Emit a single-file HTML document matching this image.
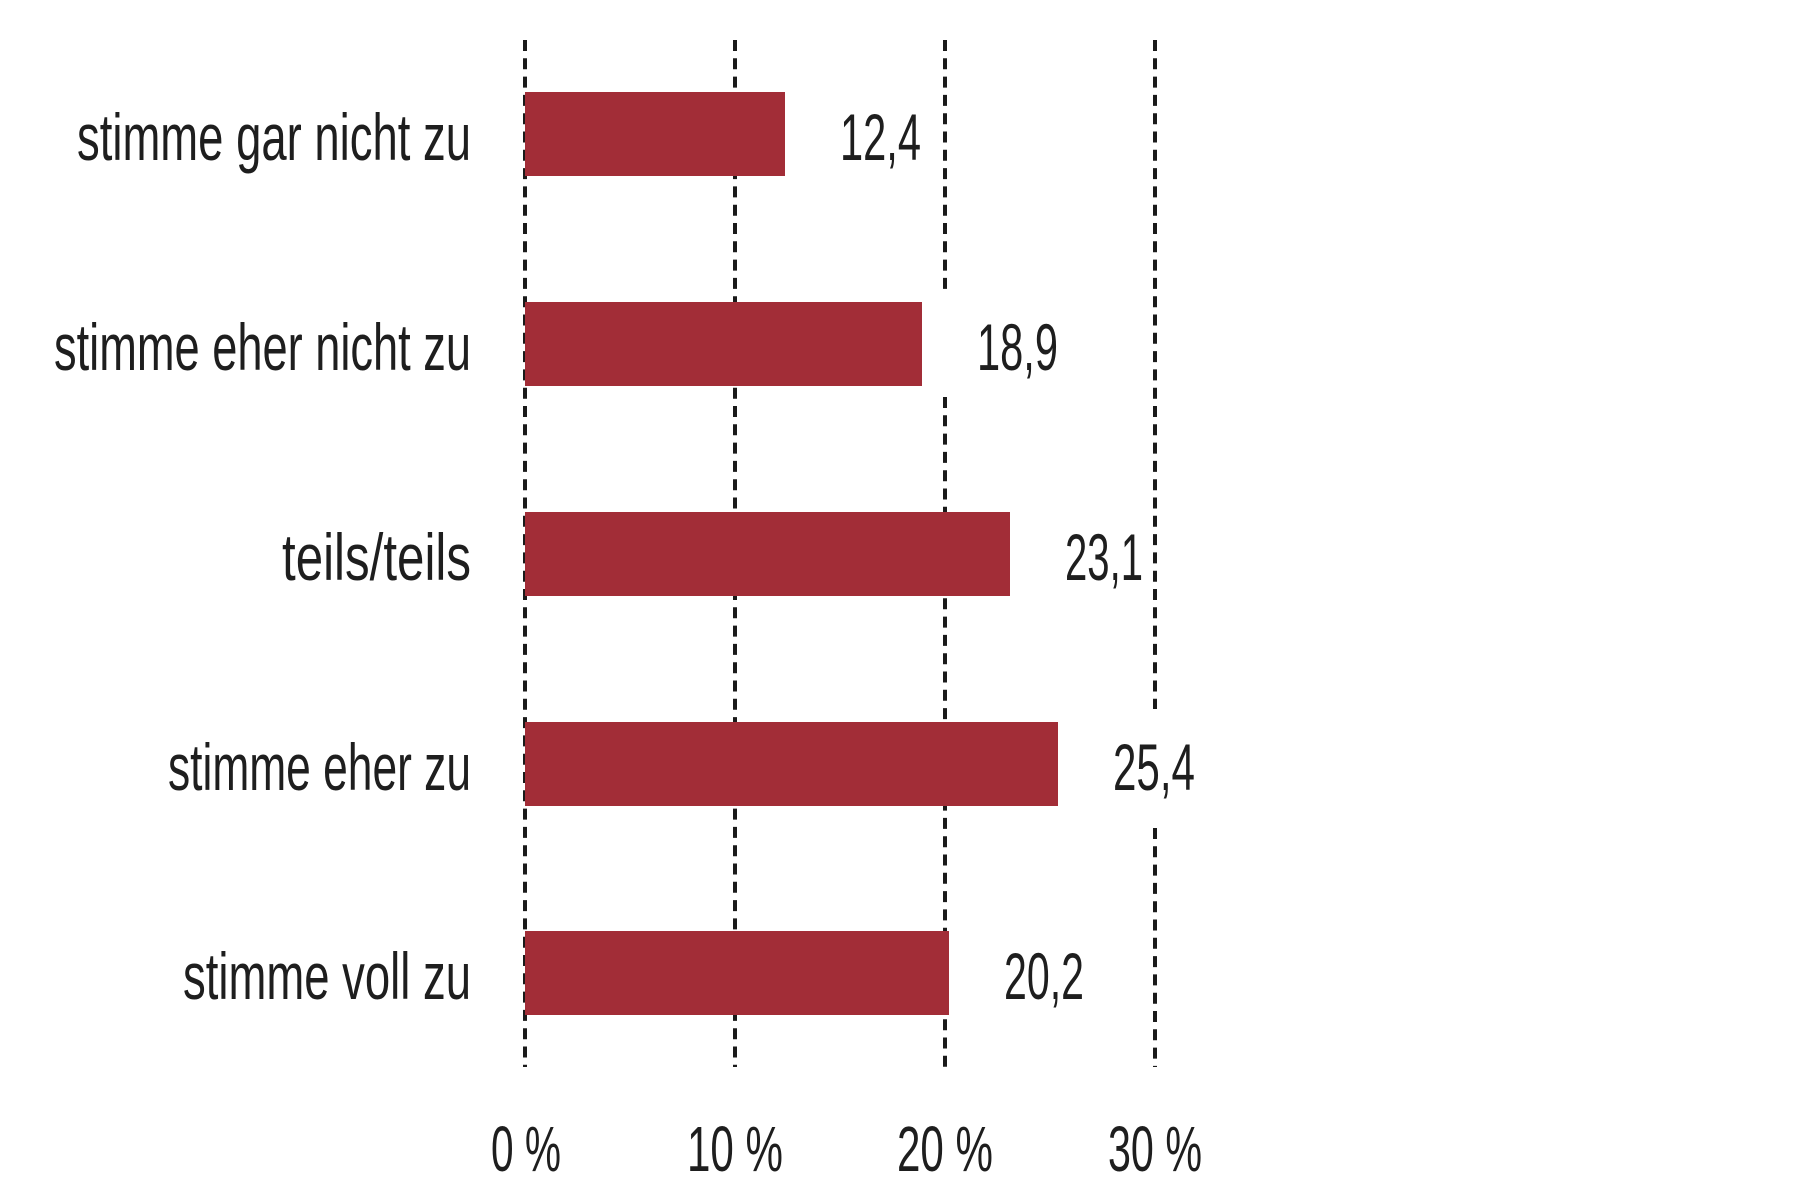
<!DOCTYPE html>
<html><head><meta charset="utf-8"><style>html,body{margin:0;padding:0;background:#fff}svg{display:block}</style></head>
<body>
<svg width="1800" height="1200" viewBox="0 0 1800 1200" xmlns="http://www.w3.org/2000/svg" font-family="Liberation Sans, sans-serif" fill="#1e1e1e">
<g stroke="#1a1a1a" stroke-width="4" stroke-dasharray="11 7.3">
<line x1="525" y1="40" x2="525" y2="1067"/>
<line x1="735" y1="40" x2="735" y2="1067"/>
<line x1="945" y1="40" x2="945" y2="291"/>
<line x1="945" y1="397" x2="945" y2="1067"/>
<line x1="1155" y1="40" x2="1155" y2="709"/>
<line x1="1155" y1="828" x2="1155" y2="1067"/>
</g>
<g fill="#a22d37">
<rect x="525" y="92" width="260" height="84"/>
<rect x="525" y="302" width="397" height="84"/>
<rect x="525" y="512" width="485" height="84"/>
<rect x="525" y="722" width="533" height="84"/>
<rect x="525" y="931" width="424" height="84"/>
</g>
<g font-size="66">
<text x="77" y="160" textLength="394" lengthAdjust="spacingAndGlyphs">stimme gar nicht zu</text>
<text x="54" y="370" textLength="417" lengthAdjust="spacingAndGlyphs">stimme eher nicht zu</text>
<text x="282" y="580" textLength="189" lengthAdjust="spacingAndGlyphs">teils/teils</text>
<text x="168" y="790" textLength="303" lengthAdjust="spacingAndGlyphs">stimme eher zu</text>
<text x="183" y="999" textLength="288" lengthAdjust="spacingAndGlyphs">stimme voll zu</text>
<text x="840" y="160" textLength="81" lengthAdjust="spacingAndGlyphs">12,4</text>
<text x="977" y="370" textLength="81" lengthAdjust="spacingAndGlyphs">18,9</text>
<text x="1065" y="580" textLength="78" lengthAdjust="spacingAndGlyphs">23,1</text>
<text x="1113" y="790" textLength="82" lengthAdjust="spacingAndGlyphs">25,4</text>
<text x="1004" y="999" textLength="80" lengthAdjust="spacingAndGlyphs">20,2</text>
</g>
<g font-size="64">
<text x="491" y="1171" textLength="70" lengthAdjust="spacingAndGlyphs">0 %</text>
<text x="687" y="1171" textLength="96" lengthAdjust="spacingAndGlyphs">10 %</text>
<text x="897" y="1171" textLength="96" lengthAdjust="spacingAndGlyphs">20 %</text>
<text x="1108" y="1171" textLength="94" lengthAdjust="spacingAndGlyphs">30 %</text>
</g>
</svg>
</body></html>
